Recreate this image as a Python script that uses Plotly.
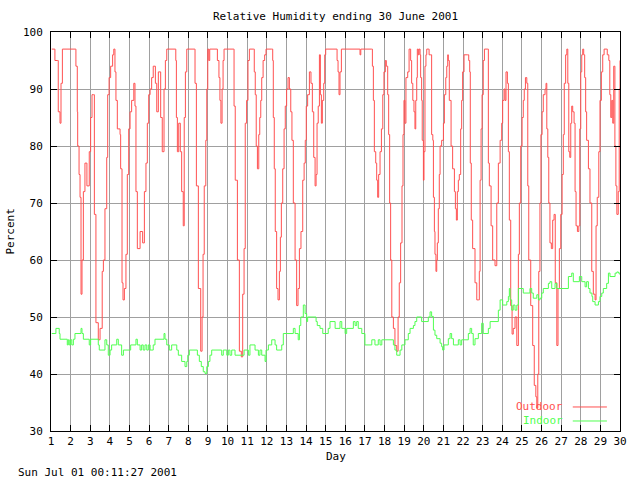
import plotly.graph_objects as go

# ---- data ----
outdoor_day = [1.04, 1.20, 1.32, 1.37, 1.46, 1.51, 1.58, 2.26, 2.27, 2.34, 2.36, 2.43, 2.48, 2.53, 2.58, 2.65, 2.73, 2.83, 2.95,
               3.02, 3.09, 3.16, 3.21, 3.29, 3.41, 3.50, 3.61, 3.67, 3.75, 3.84, 3.89, 3.96, 4.04, 4.14, 4.20, 4.26, 4.31, 4.38,
               4.52, 4.55, 4.62, 4.67, 4.74, 4.82, 4.89, 4.96, 5.03, 5.11, 5.22, 5.28, 5.33, 5.40, 5.54, 5.67, 5.76, 5.84, 5.91,
               5.98, 6.05, 6.13, 6.21, 6.32, 6.39, 6.47, 6.59, 6.67, 6.76, 6.83, 6.90, 7.32, 7.36, 7.39, 7.44, 7.51, 7.59, 7.66,
               7.74, 7.79, 7.85, 7.92, 8.30, 8.34, 8.41, 8.51, 8.63, 8.70, 8.75, 8.81, 8.89, 8.94, 8.99, 9.04, 9.09, 9.41, 9.48,
               9.56, 9.61, 9.66, 9.72, 9.77, 9.82, 10.29, 10.33, 10.39, 10.50, 10.60, 10.70, 10.77, 10.84, 10.90, 10.97, 11.04,
               11.11, 11.31, 11.36, 11.41, 11.46, 11.52, 11.59, 11.64, 11.69, 11.74, 11.81, 11.89, 11.96, 12.25, 12.30, 12.33,
               12.38, 12.43, 12.50, 12.57, 12.64, 12.69, 12.74, 12.81, 12.88, 12.94, 13.01, 13.08, 13.15, 13.22, 13.28, 13.35,
               13.44, 13.52, 13.59, 13.66, 13.74, 13.83, 13.90, 13.96, 14.01, 14.08, 14.17, 14.25, 14.32, 14.39, 14.46, 14.51,
               14.56, 14.62, 14.68, 14.73, 14.78, 14.83, 14.90, 14.95, 15.00, 15.53, 15.58, 15.63, 15.68, 15.73, 15.80, 16.71,
               16.75, 16.79, 17.33, 17.38, 17.43, 17.48, 17.55, 17.60, 17.65, 17.70, 17.77, 17.84, 17.91, 17.97, 18.04, 18.09,
               18.16, 18.21, 18.26, 18.31, 18.37, 18.45, 18.53, 18.62, 18.69, 18.75, 18.82, 18.89, 18.94, 18.99, 19.04, 19.09,
               19.18, 19.25, 19.33, 19.38, 19.44, 19.50, 19.55, 19.59, 19.64, 19.67, 19.72, 19.76, 19.81, 19.84, 19.89, 19.92,
               19.98, 20.01, 20.06, 20.11, 20.15, 20.23, 20.27, 20.33, 20.40, 20.46, 20.49, 20.54, 20.57, 20.62, 20.66, 20.69,
               20.74, 20.79, 20.83, 20.91, 21.00, 21.05, 21.12, 21.17, 21.22, 21.25, 21.30, 21.39, 21.47, 21.56, 21.61, 21.66,
               21.71, 21.76, 21.81, 21.88, 21.93, 21.98, 22.05, 22.22, 22.29, 22.34, 22.37, 22.42, 22.49, 22.61, 22.70, 22.78,
               22.83, 22.87, 22.92, 22.97, 23.03, 23.09, 23.26, 23.29, 23.34, 23.43, 23.51, 23.63, 23.72, 23.80, 23.89, 23.97,
               24.02, 24.09, 24.14, 24.19, 24.26, 24.31, 24.36, 24.43, 24.50, 24.56, 24.65, 24.74, 24.82, 24.87, 24.94, 25.01,
               25.07, 25.12, 25.18, 25.25, 25.30, 25.35, 25.45, 25.55, 25.63, 25.71, 25.76, 25.81, 25.86, 25.92, 25.97, 26.03,
               26.09, 26.18, 26.23, 26.27, 26.32, 26.37, 26.43, 26.50, 26.57, 26.64, 26.70, 26.78, 26.84, 26.91, 26.98, 27.05,
               27.11, 27.16, 27.23, 27.29, 27.34, 27.39, 27.44, 27.49, 27.54, 27.59, 27.66, 27.71, 27.76, 27.83, 27.90, 27.95,
               28.00, 28.05, 28.10, 28.15, 28.20, 28.25, 28.30, 28.39, 28.47, 28.56, 28.64, 28.73, 28.78, 28.84, 28.92, 28.98,
               29.05, 29.12, 29.19, 29.29, 29.35, 29.43, 29.48, 29.53, 29.58, 29.63, 29.68, 29.74, 29.79, 29.84, 29.91, 29.96,
               30.00]
outdoor_rh = [97, 95, 95, 86, 84, 91, 97, 97, 94, 86, 80, 75, 71, 54, 60, 72, 77, 73, 79,
              85, 89, 89, 68, 49, 46, 48, 58, 60, 69, 78, 89, 92, 94, 96, 97, 93, 88, 83,
              82, 76, 56, 53, 55, 61, 75, 83, 86, 88, 91, 87, 72, 62, 65, 63, 72, 77, 84,
              89, 90, 92, 94, 91, 86, 93, 85, 79, 90, 95, 97, 97, 95, 85, 79, 84, 79, 72,
              66, 85, 93, 97, 97, 91, 73, 55, 44, 50, 61, 73, 81, 90, 97, 95, 97, 97, 95,
              92, 88, 84, 90, 95, 97, 97, 87, 74, 60, 44, 43, 54, 62, 84, 88, 95,
              97, 97, 93, 89, 80, 76, 82, 85, 88, 92, 95, 96, 97, 97, 95, 85,
              76, 65, 55, 53, 58, 64, 70, 76, 83, 87, 90, 92, 90, 86, 81, 70,
              60, 52, 55, 62, 65, 74, 77, 81, 87, 89, 93, 91, 86, 78, 73, 75,
              84, 87, 96, 89, 84, 88, 91, 96, 97, 97, 95, 93, 89, 93, 97, 97,
              96, 97, 97, 94, 88, 79, 77, 74, 71, 75, 79, 83, 89, 93, 95, 94,
              89, 82, 70, 60, 50, 48, 45, 44, 50, 56, 63, 73, 82, 88, 84, 92,
              93, 97, 95, 91, 88, 86, 83, 88, 92, 97, 96, 97, 96, 92, 88, 81,
              74, 79, 94, 96, 97, 97, 96, 96, 82, 81, 71, 65, 61, 58, 60, 63,
              69, 75, 80, 81, 84, 89, 92, 94, 96, 95, 88, 80, 76, 72, 69, 67,
              72, 74, 75, 83, 88, 93, 96, 96, 95, 93, 77, 67, 62, 56, 53, 53,
              58, 74, 83, 89, 95, 97, 97, 77, 73, 66, 60, 59, 70, 77, 81, 84,
              88, 90, 88, 93, 91, 79, 67, 52, 47, 48, 50, 45, 61, 70, 80, 85,
              88, 90, 92, 91, 73, 60, 52, 45, 38, 36, 34, 40, 58, 70, 82, 86,
              89, 90, 91, 83, 78, 70, 63, 62, 67, 68, 56, 45, 55, 62, 68, 75,
              82, 91, 96, 97, 91, 79, 78, 84, 87, 86, 84, 72, 66, 65, 66, 83,
              93, 96, 97, 96, 92, 86, 81, 76, 70, 58, 54, 53, 66, 71, 79, 88,
              93, 96, 97, 97, 96, 95, 89, 85, 88, 84, 94, 80, 73, 68, 72, 90,
              95]

indoor_day = [1.04, 1.25, 1.42, 1.46, 1.83, 1.88, 1.93, 2.00, 2.06, 2.14, 2.22, 2.53, 2.58, 2.65, 2.95, 3.02, 3.41, 3.46,
              3.75, 3.84, 3.92, 4.01, 4.09, 4.35, 4.43, 4.60, 4.69, 5.06, 5.33, 5.40, 5.54, 5.62, 5.70, 5.79, 5.88, 5.96,
              6.05, 6.21, 6.30, 6.76, 6.81, 6.90, 7.03, 7.15, 7.41, 7.49, 7.66, 7.83, 7.92, 7.97, 8.05, 8.46, 8.56, 8.66,
              8.76, 8.85, 8.94, 9.02, 9.10, 9.19, 9.70, 9.78, 9.96, 10.04, 10.12, 10.21, 10.29, 10.38, 10.84, 11.06, 11.14,
              11.40, 11.57, 11.65, 11.74, 11.91, 11.96, 12.08, 12.25, 12.42, 12.50, 12.76, 12.84, 13.35, 13.44, 13.60,
              13.66, 13.73, 13.86, 13.95, 14.03, 14.08, 14.51, 14.57, 14.71, 14.85, 15.13, 15.22, 15.48, 15.73, 15.82,
              15.99, 16.07, 16.41, 16.50, 16.58, 16.66, 16.84, 17.00, 17.35, 17.51, 17.68, 17.77, 17.86, 18.45, 18.53,
              18.62, 18.79, 18.88, 19.04, 19.21, 19.30, 19.47, 19.55, 19.64, 19.89, 20.23, 20.32, 20.40, 20.49, 20.57,
              20.66, 20.83, 20.91, 20.96, 21.03, 21.25, 21.34, 21.42, 21.51, 21.76, 21.85, 21.93, 22.27, 22.36, 22.44,
              22.52, 22.61, 22.78, 22.95, 23.03, 23.29, 23.38, 23.80, 23.89, 24.02, 24.23, 24.31, 24.36, 24.40, 24.48,
              24.56, 24.65, 24.74, 24.82, 25.07, 25.41, 25.50, 25.58, 25.76, 25.84, 25.92, 26.01, 26.09, 26.35, 26.43,
              26.52, 26.69, 26.78, 27.37, 27.54, 27.62, 27.93, 28.05, 28.22, 28.30, 28.39, 28.47, 28.57, 28.61, 28.73,
              28.90, 28.98, 29.07, 29.15, 29.32, 29.41, 29.49, 29.75, 29.84, 29.92, 30.00]
indoor_rh = [47.1, 48.0, 47.1, 46.1, 45.1, 46.0, 45.1, 46.0, 45.1, 46.1, 47.1, 48.0, 47.1, 46.1, 45.1, 46.1, 45.1, 44.2,
             46.0, 45.1, 43.3, 44.2, 45.1, 46.1, 45.1, 43.3, 44.2, 45.1, 46.1, 45.1, 44.2, 45.1, 44.2, 45.1, 44.2, 45.1,
             44.2, 45.1, 46.1, 47.1, 46.1, 45.1, 44.2, 45.1, 44.2, 43.3, 42.2, 41.3, 42.2, 43.3, 44.2, 43.3, 42.2, 41.3,
             40.4, 40.1, 41.3, 42.2, 43.3, 44.2, 43.3, 44.2, 43.3, 44.2, 43.3, 44.2, 44.2, 43.3, 44.2, 43.3, 45.1,
             44.2, 43.3, 44.2, 43.3, 42.2, 44.2, 45.1, 46.0, 45.1, 44.2, 45.1, 47.1, 48.0, 47.1, 46.0,
             48.5, 50.0, 52.1, 50.6, 49.2, 50.0, 49.2, 48.5, 48.0, 47.1, 48.0, 49.2, 48.0, 49.2, 48.0,
             47.1, 48.0, 49.2, 48.5, 49.2, 48.0, 47.1, 45.1, 46.0, 45.1, 46.0, 45.1, 46.0, 45.1, 44.2,
             43.3, 44.2, 45.1, 46.0, 47.1, 48.0, 48.5, 49.2, 50.0, 49.2, 50.0, 50.9, 50.1, 47.7, 46.8,
             46.2, 45.4, 44.8, 44.2, 45.1, 46.2, 47.1, 46.2, 45.1, 46.0, 45.1, 46.0, 47.1, 48.0, 47.1,
             45.1, 46.2, 47.1, 48.9, 47.1, 48.0, 49.2, 51.2, 53.0, 52.1, 52.7, 53.6, 55.0, 53.0, 51.2,
             52.1, 51.2, 52.1, 55.0, 54.2, 55.0, 54.2, 53.3, 53.9, 53.0, 53.3, 54.2, 55.0, 55.9, 56.2,
             55.0, 55.9, 55.0, 57.1, 57.7, 56.2, 57.1, 56.2, 55.3, 56.2, 55.0, 54.2, 53.6, 52.7, 52.1,
             52.7, 53.6, 54.2, 55.0, 55.9, 57.7, 57.1, 57.7, 57.9, 57.7, 57.4]

day_ticks = list(range(1, 31))
pct_ticks = [30, 40, 50, 60, 70, 80, 90, 100]

title_text = "Relative Humidity ending 30 June 2001"
x_title = "Day"
y_title = "Percent"
stamp_text = "Sun Jul 01 00:11:27 2001"
series_names = ["Outdoor", "Indoor"]
series_colors = ["#ff5050", "#50ff50"]

FONT = "DejaVu Sans Mono"
FS = 11

fig = go.Figure()
fig.add_trace(go.Scatter(x=outdoor_day, y=outdoor_rh, mode="lines", name=series_names[0],
                         line=dict(color=series_colors[0], width=1, shape="hv"), showlegend=False))
fig.add_trace(go.Scatter(x=indoor_day, y=indoor_rh, mode="lines", name=series_names[1],
                         line=dict(color=series_colors[1], width=1, shape="hv"), showlegend=False))

axis_common = dict(showline=True, linecolor="black", linewidth=1, mirror="ticks",
                   ticks="inside", ticklen=6, tickcolor="black", tickwidth=1,
                   showgrid=True, gridcolor="#a0a0a0", gridwidth=1, zeroline=False,
                   tickfont=dict(family=FONT, size=FS, color="black"))

fig.update_xaxes(range=[1, 30], tickvals=day_ticks, ticktext=[str(d) for d in day_ticks], **axis_common)
fig.update_yaxes(range=[30, 100], tickvals=pct_ticks, ticktext=[str(p) for p in pct_ticks],
                 ticklabelstandoff=5, **axis_common)

annotations = [
    dict(text=title_text, x=0.5, y=1.040, xref="paper", yref="paper", showarrow=False,
         xanchor="center", yanchor="middle", font=dict(family=FONT, size=FS, color="black")),
    dict(text=x_title, x=0.5, y=-0.065, xref="paper", yref="paper", showarrow=False,
         xanchor="center", yanchor="middle", font=dict(family=FONT, size=FS, color="black")),
    dict(text=y_title, x=-0.072, y=0.5, xref="paper", yref="paper", showarrow=False, textangle=-90,
         xanchor="center", yanchor="middle", font=dict(family=FONT, size=FS, color="black")),
    dict(text=stamp_text, x=-0.0615, y=-0.103, xref="paper", yref="paper", showarrow=False,
         xanchor="left", yanchor="middle", font=dict(family=FONT, size=FS, color="black")),
]
legend_y = [0.0602, 0.0251]
shapes = []
for name, col, ly in zip(series_names, series_colors, legend_y):
    annotations.append(dict(text=name, x=0.903, y=ly, xref="paper", yref="paper", showarrow=False,
                            xanchor="right", yanchor="middle", font=dict(family=FONT, size=FS, color=col)))
    shapes.append(dict(type="line", xref="paper", yref="paper", x0=0.917, x1=0.977, y0=ly, y1=ly,
                       line=dict(color=col, width=1)))

fig.update_layout(width=640, height=480, margin=dict(l=51, r=20, t=32, b=49),
                  paper_bgcolor="white", plot_bgcolor="white",
                  annotations=annotations, shapes=shapes,
                  font=dict(family=FONT, size=FS, color="black"))

fig.write_html("out.html", config={"displayModeBar": False},
               post_script="document.body.style.margin='0px';")
